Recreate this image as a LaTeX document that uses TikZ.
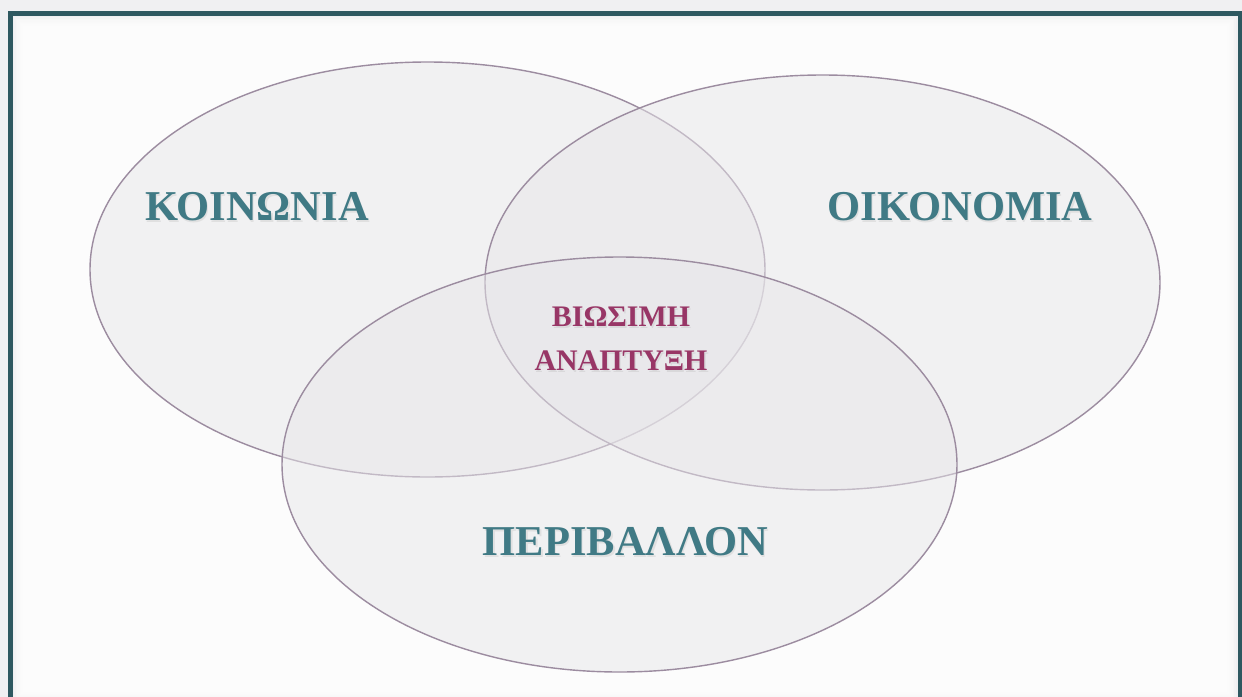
\documentclass[tikz,border=0pt]{standalone}
\usepackage{fontspec}
\setmainfont{Liberation Serif}
\usetikzlibrary{positioning}
\definecolor{frameteal}{RGB}{46,88,96}
\definecolor{labelteal}{RGB}{64,122,133}
\definecolor{labelplum}{RGB}{152,54,102}
\definecolor{ringline}{RGB}{156,140,160}
\definecolor{ringfill}{RGB}{232,231,234}
\definecolor{pagegray}{RGB}{240,240,242}
\definecolor{innershade}{RGB}{234,234,237}
\tikzstyle{ring}=[draw=ringline,line width=0.8pt,fill=ringfill,fill opacity=0.5]
\tikzstyle{bigword}=[text=labelteal,font=\fontsize{24.2}{29}\selectfont\bfseries]
\tikzstyle{smallword}=[text=labelplum,font=\fontsize{17}{25}\selectfont\bfseries,align=center]
\newcommand{\ring}[2]{% Syntax: {center x}{center y}, radii are the same for all three
  \draw[ring] (#1,#2) ellipse [x radius=337.5,y radius=207.5];
}
\newcommand{\shadowword}[4]{% Syntax: {name}{style}{position}{text}
  \node[#2,text=black!60,opacity=0.12,xshift=0.8pt,yshift=-0.8pt] at (#3) {#4};
  \node[#2] (#1) at (#3) {#4};
}

\begin{document}
\begin{tikzpicture}[x=0.02cm,y=-0.02cm]
	\useasboundingbox (0,0) rectangle (1242,697);
	\fill[pagegray] (0,0) rectangle (1242,697);
	% page with a soft inner shadow
	\fill[innershade] (13,16) rectangle (1237,702);
	\foreach \i in {0,...,14} {
		\fill[white,opacity=0.25] (13+1.4*\i,16+1.4*\i) rectangle (1237-1.4*\i,702-1.4*\i);
	}
	\draw[frameteal,line width=2.85pt] (10.5,720) -- (10.5,13.5) -- (1240,13.5) -- (1240,720);
	% the three circles
	\ring{427.5}{269.5}
	\ring{822.5}{282.5}
	\ring{619.5}{464.5}
	\shadowword{society}{bigword}{257,207}{ΚΟΙΝΩΝΙΑ}
	\shadowword{economy}{bigword}{960,207}{ΟΙΚΟΝΟΜΙΑ}
	\shadowword{environment}{bigword}{625.5,542}{ΠΕΡΙΒΑΛΛΟΝ}
	\shadowword{sustain}{smallword}{621,339}{ΒΙΩΣΙΜΗ\\ΑΝΑΠΤΥΞΗ}
\end{tikzpicture}
\end{document}
